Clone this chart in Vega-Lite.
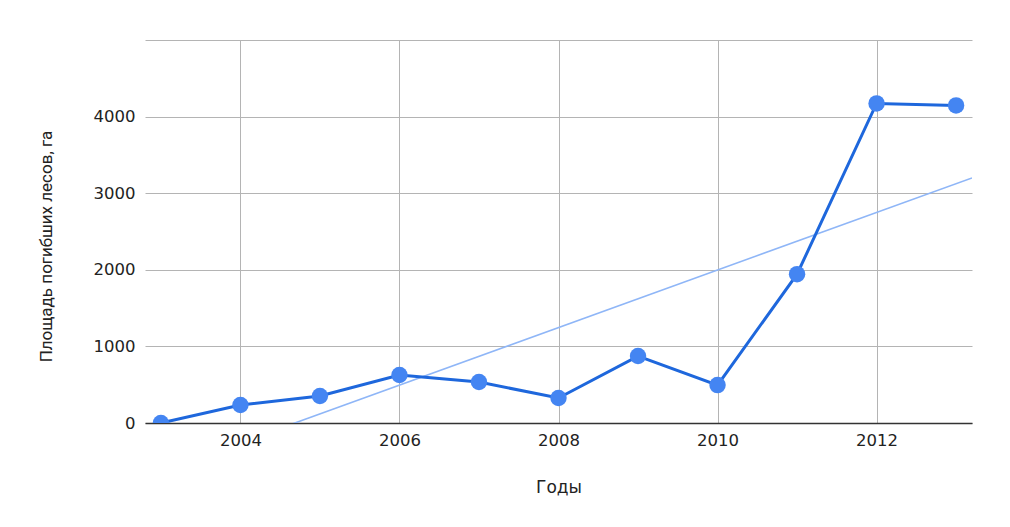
{
  "$schema": "https://vega.github.io/schema/vega-lite/v6.json",
  "width": 827,
  "height": 383,
  "autosize": {"type": "none"},
  "padding": {"left": 145, "top": 40, "right": 38, "bottom": 104},
  "background": "white",
  "config": {
    "view": {"stroke": null},
    "font": "DejaVu Sans",
    "axis": {"labelFont": "DejaVu Sans", "titleFont": "DejaVu Sans", "labelColor": "#222", "titleColor": "#222", "titleFontWeight": "normal", "labelFontSize": 16.5, "titleFontSize": 17, "gridColor": "#b4b4b4", "gridOpacity": 1, "gridWidth": 1, "ticks": false}
  },
  "data": {
    "values": [
      {"year": 2003, "area": 0},
      {"year": 2004, "area": 235},
      {"year": 2005, "area": 352},
      {"year": 2006, "area": 626},
      {"year": 2007, "area": 535},
      {"year": 2008, "area": 326},
      {"year": 2009, "area": 874},
      {"year": 2010, "area": 495},
      {"year": 2011, "area": 1943},
      {"year": 2012, "area": 4172},
      {"year": 2013, "area": 4146}
    ]
  },
  "encoding": {
    "x": {
      "field": "year", "type": "quantitative",
      "scale": {"domain": [2002.8, 2013.2], "nice": false, "zero": false},
      "axis": {"values": [2004, 2006, 2008, 2010, 2012], "format": "d", "title": "Годы", "labelPadding": 9, "titlePadding": 31, "domainColor": "#333", "domainWidth": 1.5, "labelFlush": false}
    },
    "y": {
      "field": "area", "type": "quantitative",
      "scale": {"domain": [0, 5000], "nice": false},
      "axis": {"values": [0, 1000, 2000, 3000, 4000, 5000], "labelExpr": "datum.value == 5000 ? '' : datum.label", "format": "d", "title": "Площадь погибших лесов, га", "titleFont": "Roboto", "titleFontSize": 17, "titleY": 206, "domain": false, "labelPadding": 10, "titlePadding": 38}
    }
  },
  "layer": [
    {
      "transform": [{"regression": "area", "on": "year", "extent": [2002.8, 2013.2]}],
      "mark": {"type": "line", "color": "#8fb6f7", "strokeWidth": 1.6, "clip": true}
    },
    {
      "mark": {"type": "line", "color": "#1e67dc", "strokeWidth": 3, "clip": true}
    },
    {
      "mark": {"type": "circle", "color": "#4485f2", "opacity": 1, "size": 270, "clip": true}
    }
  ]
}
